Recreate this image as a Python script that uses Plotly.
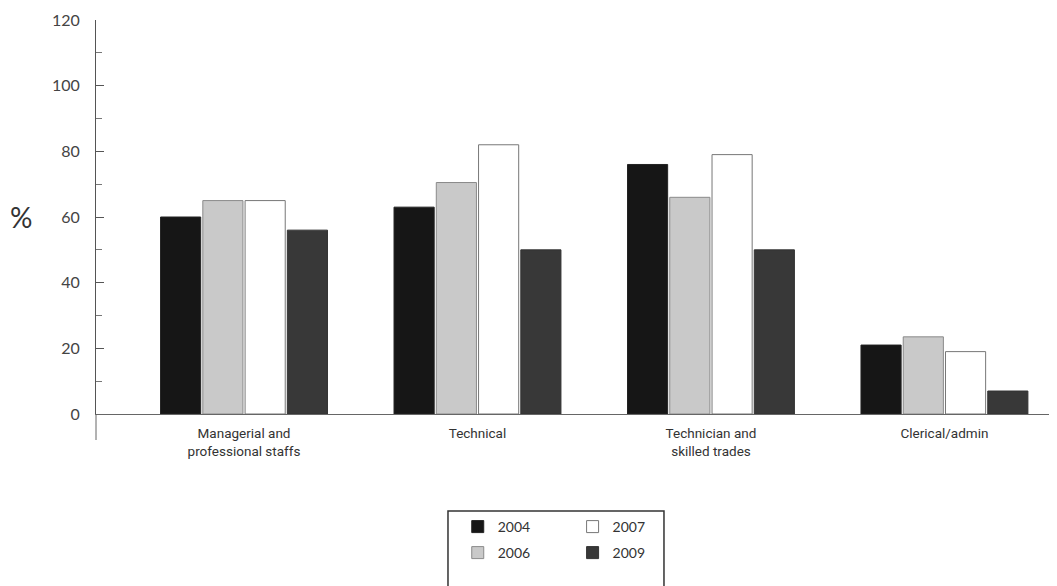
import plotly.graph_objects as go

categories = ["Managerial and<br>professional staffs", "Technical", "Technician and<br>skilled trades", "Clerical/admin"]
years = ["2004", "2006", "2007", "2009"]
v2004 = [60, 63, 76, 21]
v2006 = [65, 70.5, 66, 23.5]
v2007 = [65, 82, 79, 19]
v2009 = [56, 50, 50, 7]
y_ticks = [0, 20, 40, 60, 80, 100, 120]

series = [v2004, v2006, v2007, v2009]
colors = ["#161616", "#c9c9c9", "#ffffff", "#383838"]
outline = ["#222222", "#8a8a8a", "#777777", "#333333"]
legend_ids = ["legend", "legend2", "legend3", "legend4"]
# legend slot positions (paper coords): 2004 top-left, 2006 bottom-left, 2007 top-right, 2009 bottom-right
legend_pos = [(0.378, -0.2868), (0.378, -0.3528), (0.498, -0.2868), (0.498, -0.3528)]

fig = go.Figure()
for yr, vals, c, oc, lg in zip(years, series, colors, outline, legend_ids):
    fig.add_trace(go.Bar(
        x=list(range(len(categories))), y=vals, name=yr,
        marker=dict(color=c, line=dict(color=oc, width=1)),
        legend=lg,
    ))

font_fam = "Lato, 'Open Sans', sans-serif"
legend_layouts = {}
for lg, (lx, ly) in zip(legend_ids, legend_pos):
    legend_layouts[lg] = dict(x=lx, y=ly, xanchor="left", yanchor="middle",
                              font=dict(family=font_fam, size=14, color="#333"),
                              bgcolor="rgba(0,0,0,0)", itemclick=False)

fig.update_layout(
    width=1049, height=578,
    margin=dict(l=88, r=4, t=12, b=172, autoexpand=False),
    paper_bgcolor="white", plot_bgcolor="white",
    barmode="group", bargap=0.276, bargroupgap=0.05,
    showlegend=True,
    xaxis=dict(
        range=[-0.634, 3.465],
        tickmode="array", tickvals=list(range(len(categories))), ticktext=categories,
        showline=True, linecolor="#666", linewidth=1,
        ticks="", showgrid=False, zeroline=False,
        tickfont=dict(family="'Liberation Sans Narrow', 'Roboto', sans-serif", size=13.5, color="#333"),
        ticklabelstandoff=7,
    ),
    yaxis=dict(
        range=[0, 120], tickmode="array", tickvals=y_ticks,
        showline=True, linecolor="#555", linewidth=1,
        ticks="inside", ticklen=8, tickcolor="#555", tickwidth=1,
        minor=dict(dtick=10, ticks="inside", ticklen=6, tickcolor="#777"),
        showgrid=False, zeroline=False,
        tickfont=dict(family=font_fam, size=16, color="#444"),
        ticklabelstandoff=12,
    ),
    annotations=[dict(text="%", xref="paper", yref="y", x=-0.078, y=60,
                      xanchor="center", yanchor="middle", showarrow=False,
                      font=dict(family=font_fam, size=28, color="#333"))],
    shapes=[
        dict(type="line", xref="paper", yref="paper", x0=0, x1=0, y0=0, y1=-0.066,
             line=dict(color="#666", width=1)),
        dict(type="line", xref="paper", yref="paper", x0=1, x1=1, y0=0, y1=-0.066,
             line=dict(color="#666", width=1)),
        dict(type="rect", xref="paper", yref="paper", x0=0.3678, x1=0.5935,
             y0=-0.2462, y1=-0.46, line=dict(color="#333", width=1.5)),
    ],
    **legend_layouts,
)

fig.write_html("out.html")
